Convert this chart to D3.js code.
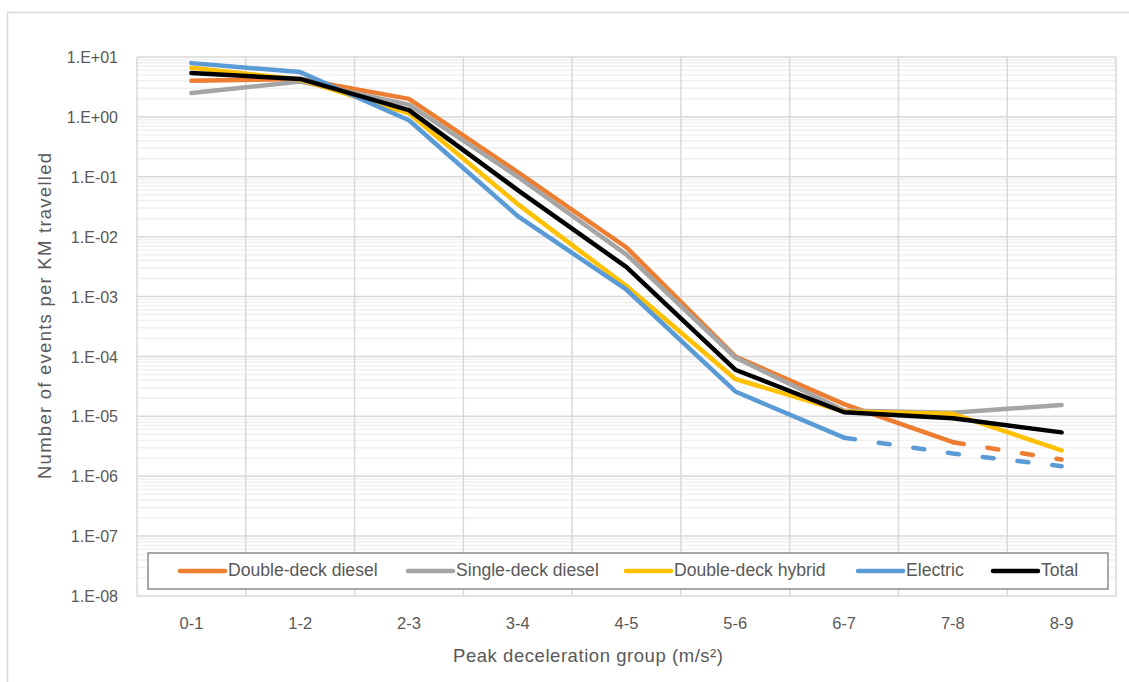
<!DOCTYPE html>
<html>
<head>
<meta charset="utf-8">
<script src="https://cdn.jsdelivr.net/npm/d3@7"></script>
<style>
  html, body { margin: 0; padding: 0; background: #fff; }
  svg { display: block; }
  text { font-family: "Liberation Sans", Arial, sans-serif; fill: #595959; }
</style>
</head>
<body>
<svg id="chart" width="1129" height="682"></svg>
<script>
// ---- data ----
const categories = ["0-1", "1-2", "2-3", "3-4", "4-5", "5-6", "6-7", "7-8", "8-9"];
const doubleDeckDiesel = [4.0, 4.3, 2.0, 0.12, 0.0066, 1.0e-4, 1.6e-5, 3.7e-6, 1.9e-6];
const singleDeckDiesel = [2.5, 3.9, 1.6, 0.10, 0.0050, 9.6e-5, 1.25e-5, 1.15e-5, 1.55e-5];
const doubleDeckHybrid = [6.6, 4.2, 1.15, 0.035, 0.0015, 4.2e-5, 1.2e-5, 1.1e-5, 2.7e-6];
const electric = [7.9, 5.6, 0.88, 0.022, 0.0013, 2.6e-5, 4.4e-6, 2.4e-6, 1.47e-6];
const total = [5.4, 4.3, 1.3, 0.06, 0.0031, 6.0e-5, 1.17e-5, 9.3e-6, 5.4e-6];
const seriesNames = ["Double-deck diesel", "Single-deck diesel", "Double-deck hybrid", "Electric", "Total"];
const yTickValues = [1e1, 1e0, 1e-1, 1e-2, 1e-3, 1e-4, 1e-5, 1e-6, 1e-7, 1e-8];
const yTickLabels = ["1.E+01", "1.E+00", "1.E-01", "1.E-02", "1.E-03", "1.E-04", "1.E-05", "1.E-06", "1.E-07", "1.E-08"];
// index from which a series is drawn dashed (projected part)
const dashedFrom = [7, null, null, 6, null];

const seriesValues = [doubleDeckDiesel, singleDeckDiesel, doubleDeckHybrid, electric, total];
const colors = ["#ED7D31", "#A5A5A5", "#FFC000", "#5B9BD5", "#000000"];

// ---- layout ----
const svg = d3.select("#chart");
const plot = { left: 137, right: 1116, top: 57, bottom: 596 };

// outer chart border (only top/left visible in frame)
svg.append("rect").attr("x", 7.5).attr("y", 12.5).attr("width", 1140).attr("height", 700)
  .attr("fill", "#fff").attr("stroke", "#d9d9d9").attr("stroke-width", 1.5);

const x = d3.scaleBand().domain(categories).range([plot.left, plot.right]).padding(0);
const y = d3.scaleLog().domain([1e-8, 10]).range([plot.bottom, plot.top]);
const cx = c => x(c) + x.bandwidth() / 2;

// minor horizontal gridlines
const allTicks = y.ticks();
const isMajor = v => Math.abs(Math.log10(v) - Math.round(Math.log10(v))) < 1e-9;
svg.append("g").selectAll("line").data(allTicks.filter(v => !isMajor(v))).join("line")
  .attr("x1", plot.left).attr("x2", plot.right)
  .attr("y1", d => y(d)).attr("y2", d => y(d))
  .attr("stroke", "#f0f0f0").attr("stroke-width", 1.5);

// major horizontal gridlines
svg.append("g").selectAll("line").data(yTickValues).join("line")
  .attr("x1", plot.left).attr("x2", plot.right)
  .attr("y1", d => y(d)).attr("y2", d => y(d))
  .attr("stroke", "#d9d9d9").attr("stroke-width", 1.5);

// vertical gridlines at category boundaries
const bounds = categories.map(c => x(c)).concat([plot.right]);
svg.append("g").selectAll("line").data(bounds).join("line")
  .attr("x1", d => d).attr("x2", d => d)
  .attr("y1", plot.top).attr("y2", plot.bottom)
  .attr("stroke", "#d9d9d9").attr("stroke-width", 1.5);

// y axis labels
const yAxis = d3.axisLeft(y).tickValues(yTickValues)
  .tickFormat(d => yTickLabels[yTickValues.indexOf(d)]).tickSize(0).tickPadding(0);
const gy = svg.append("g").attr("transform", `translate(${plot.left - 19},0)`).call(yAxis);
gy.select(".domain").remove();
gy.selectAll("text").style("font-family", "'Liberation Sans', Arial, sans-serif")
  .style("font-size", "16px").attr("fill", "#595959").attr("dy", "0.35em");

// x axis labels
const xAxis = d3.axisBottom(x).tickSize(0).tickPadding(0);
const gx = svg.append("g").attr("transform", `translate(0,${plot.bottom + 27})`).call(xAxis);
gx.select(".domain").remove();
gx.selectAll("text").style("font-family", "'Liberation Sans', Arial, sans-serif")
  .style("font-size", "16.5px").attr("fill", "#595959").attr("dy", "0.35em");

// axis titles
svg.append("text").attr("x", 588).attr("y", 657).attr("text-anchor", "middle")
  .attr("dominant-baseline", "middle").style("font-size", "18.5px")
  .attr("textLength", 270).attr("lengthAdjust", "spacing")
  .text("Peak deceleration group (m/s²)");
svg.append("text").attr("transform", `translate(46,316) rotate(-90)`).attr("text-anchor", "middle")
  .attr("dominant-baseline", "middle").style("font-size", "18.5px")
  .attr("textLength", 326).attr("lengthAdjust", "spacing")
  .text("Number of events per KM travelled");

// series lines
const line = d3.line().x(d => cx(d.c)).y(d => y(d.v));
const gLines = svg.append("g");
seriesValues.forEach((vals, si) => {
  const pts = vals.map((v, i) => ({ c: categories[i], v, i }));
  const df = dashedFrom[si];
  const solid = df == null ? pts : pts.slice(0, df + 1);
  gLines.append("path").attr("d", line(solid)).attr("fill", "none")
    .attr("stroke", colors[si]).attr("stroke-width", 4.5)
    .attr("stroke-linejoin", "round").attr("stroke-linecap", "round");
  if (df != null) {
    gLines.append("path").attr("d", line(pts.slice(df))).attr("fill", "none")
      .attr("stroke", colors[si]).attr("stroke-width", 4.5)
      .attr("stroke-linejoin", "round").attr("stroke-linecap", "round")
      .attr("stroke-dasharray", "11 24");
  }
});

// legend
const legend = svg.append("g");
legend.append("rect").attr("x", 148).attr("y", 553).attr("width", 960).attr("height", 36)
  .attr("fill", "#fff").attr("stroke", "#8c8c8c").attr("stroke-width", 1.5);
const legendX = [180, 408, 626, 858, 993];
seriesNames.forEach((name, i) => {
  const gx0 = legendX[i];
  legend.append("line").attr("x1", gx0).attr("x2", gx0 + 45).attr("y1", 571).attr("y2", 571)
    .attr("stroke", colors[i]).attr("stroke-width", 4.5).attr("stroke-linecap", "round");
  legend.append("text").attr("x", gx0 + 48).attr("y", 571).attr("dominant-baseline", "middle")
    .style("font-size", "17.6px").text(name);
});
</script>
</body>
</html>
